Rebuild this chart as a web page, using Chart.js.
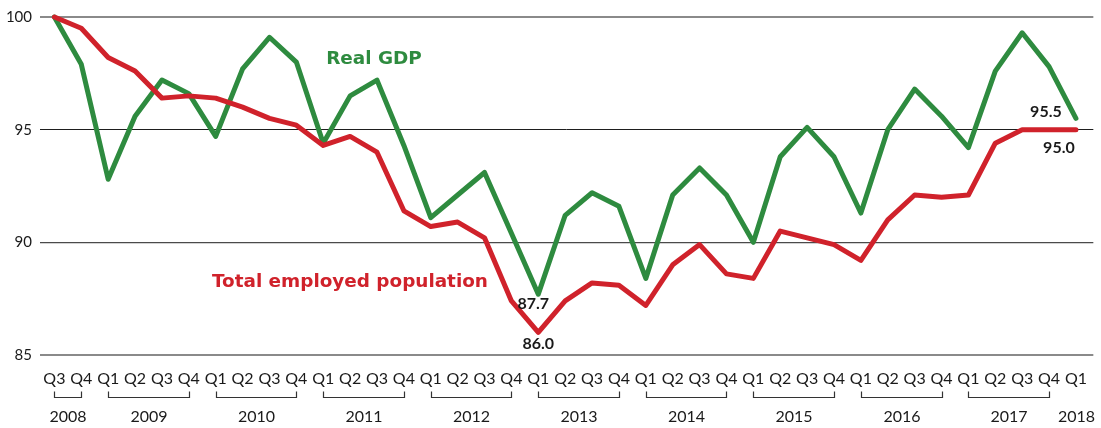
<!DOCTYPE html>
<html>
<head>
<meta charset="utf-8">
<script src="https://cdn.jsdelivr.net/npm/chart.js@4/dist/chart.umd.min.js"></script>
<style>
  html, body { margin: 0; padding: 0; background: #fff; }
  #wrap { position: relative; width: 1101px; height: 428px; }
</style>
</head>
<body>
<div id="wrap"><canvas id="gdpChart"></canvas></div>
<script>
/* ---------- Daten (Index, Q3 2008 = 100) ---------- */
const QUARTERS = ['Q3', 'Q4',
  'Q1', 'Q2', 'Q3', 'Q4', 'Q1', 'Q2', 'Q3', 'Q4', 'Q1', 'Q2', 'Q3', 'Q4',
  'Q1', 'Q2', 'Q3', 'Q4', 'Q1', 'Q2', 'Q3', 'Q4', 'Q1', 'Q2', 'Q3', 'Q4',
  'Q1', 'Q2', 'Q3', 'Q4', 'Q1', 'Q2', 'Q3', 'Q4', 'Q1', 'Q2', 'Q3', 'Q4',
  'Q1'];

// Jahr -> [erstes Quartal-Index, letztes Quartal-Index]
const YEARS = [
  ['2008', 0, 1], ['2009', 2, 5], ['2010', 6, 9], ['2011', 10, 13],
  ['2012', 14, 17], ['2013', 18, 21], ['2014', 22, 25], ['2015', 26, 29],
  ['2016', 30, 33], ['2017', 34, 37], ['2018', 38, 38],
];

const REAL_GDP = [100, 97.9, 92.8, 95.6, 97.2, 96.6, 94.7, 97.7, 99.1, 98.0,
  94.4, 96.5, 97.2, 94.3, 91.1, 92.1, 93.1, 90.4, 87.7, 91.2,
  92.2, 91.6, 88.4, 92.1, 93.3, 92.1, 90.0, 93.8, 95.1, 93.8,
  91.3, 95.0, 96.8, 95.6, 94.2, 97.6, 99.3, 97.8, 95.5];

const EMPLOYED = [100, 99.5, 98.2, 97.6, 96.4, 96.5, 96.4, 96.0, 95.5, 95.2,
  94.3, 94.7, 94.0, 91.4, 90.7, 90.9, 90.2, 87.4, 86.0, 87.4,
  88.2, 88.1, 87.2, 89.0, 89.9, 88.6, 88.4, 90.5, 90.2, 89.9,
  89.2, 91.0, 92.1, 92.0, 92.1, 94.4, 95.0, 95.0, 95.0];

const Y_TICKS = [85, 90, 95, 100];

const GREEN = '#2e8b3f';
const RED = '#d0222b';
const INK = '#1a1a1a';
const LABEL_FONT = 'Lato, "Noto Sans", sans-serif';
const TITLE_FONT = '"DejaVu Sans", Roboto, sans-serif';

/* ---------- Beschriftungen im Diagramm ---------- */
// Serien-Namen: Anker in Datenkoordinaten (linke Kante / Grundlinie)
const SERIES_LABELS = [
  { text: 'Real GDP', x: 10.11, y: 97.91, color: GREEN },
  { text: 'Total employed population', x: 5.86, y: 88.02, color: RED },
];
// Werte-Beschriftungen: Datenpunkt + Versatz in px
const VALUE_LABELS = [
  { text: '87.7', i: 18, series: REAL_GDP, dx: -5, dy: 15 },
  { text: '86.0', i: 18, series: EMPLOYED, dx: 0, dy: 17 },
  { text: '95.5', i: 38, series: REAL_GDP, dx: -30, dy: -1 },
  { text: '95.0', i: 38, series: EMPLOYED, dx: -17, dy: 23 },
];

function gridStyle(v) {
  if (v === 95) return { color: '#1e1e1e', width: 1 };
  if (v === 90) return { color: '#4a4a4a', width: 1.2 };
  return { color: '#8a8a8a', width: 2 };
}

// Jahresklammern + Jahreszahlen unter den Quartalen
const yearPlugin = {
  id: 'yearBrackets',
  afterDraw(chart) {
    const { ctx } = chart;
    const x = chart.scales.x;
    ctx.save();
    ctx.strokeStyle = '#333';
    ctx.lineWidth = 1.2;
    ctx.fillStyle = INK;
    ctx.font = '16px ' + LABEL_FONT;
    ctx.textAlign = 'center';
    ctx.textBaseline = 'alphabetic';
    YEARS.forEach(([label, a, b]) => {
      const x0 = Math.round(x.getPixelForValue(a)) + 0.5;
      const x1 = Math.round(x.getPixelForValue(b)) + 0.5;
      if (b > a) {
        ctx.beginPath();
        ctx.moveTo(x0, 391.5);
        ctx.lineTo(x0, 397.5);
        ctx.lineTo(x1, 397.5);
        ctx.lineTo(x1, 391.5);
        ctx.stroke();
      }
      ctx.fillText(label, (x0 + x1) / 2, 421.5);
    });
    ctx.restore();
  },
};

// Serien-Namen und Endwerte
const labelPlugin = {
  id: 'seriesLabels',
  afterDatasetsDraw(chart) {
    const { ctx } = chart;
    const x = chart.scales.x, y = chart.scales.y;
    ctx.save();
    ctx.textBaseline = 'alphabetic';
    ctx.textAlign = 'left';
    SERIES_LABELS.forEach(l => {
      ctx.font = 'bold 18.4px ' + TITLE_FONT;
      ctx.fillStyle = l.color;
      ctx.fillText(l.text, x.getPixelForValue(l.x), y.getPixelForValue(l.y));
    });
    ctx.font = 'bold 16px ' + LABEL_FONT;
    ctx.textAlign = 'center';
    ctx.fillStyle = INK;
    VALUE_LABELS.forEach(l => {
      const px = x.getPixelForValue(l.i) + l.dx;
      const py = y.getPixelForValue(l.series[l.i]) + l.dy;
      ctx.fillText(l.text, px, py);
    });
    ctx.restore();
  },
};

function lineDataset(label, data, color) {
  return {
    label,
    data: data.map((v, i) => ({ x: i, y: v })),
    borderColor: color,
    backgroundColor: color,
    borderWidth: 5,
    borderJoinStyle: 'round',
    borderCapStyle: 'round',
    pointRadius: 0,
    tension: 0,
    fill: false,
    clip: false,
  };
}

new Chart(document.getElementById('gdpChart'), {
  type: 'line',
  data: {
    datasets: [
      lineDataset('Total employed population', EMPLOYED, RED),
      lineDataset('Real GDP', REAL_GDP, GREEN),
    ],
  },
  options: {
    responsive: true,
    maintainAspectRatio: false,
    animation: false,
    layout: { padding: { top: 16, right: 1, left: 0, bottom: 0 } },
    plugins: { legend: { display: false }, tooltip: { enabled: false } },
    scales: {
      x: {
        type: 'linear',
        min: -0.536,
        max: 38.647,
        grid: { display: false, drawTicks: false },
        border: { display: false },
        afterBuildTicks: s => { s.ticks = QUARTERS.map((_, i) => ({ value: i })); },
        afterFit: s => { s.height = 73; },
        ticks: {
          autoSkip: false,
          maxRotation: 0,
          padding: 14,
          color: INK,
          font: { family: LABEL_FONT, size: 16 },
          callback: (v, i) => QUARTERS[i],
        },
      },
      y: {
        min: 85,
        max: 100,
        afterBuildTicks: s => { s.ticks = Y_TICKS.map(v => ({ value: v })); },
        afterFit: s => { s.width = 40; },
        grid: {
          drawTicks: false,
          color: c => gridStyle(c.tick.value).color,
          lineWidth: c => gridStyle(c.tick.value).width,
        },
        border: { display: false },
        ticks: {
          padding: 8,
          color: INK,
          font: { family: LABEL_FONT, size: 15 },
        },
      },
    },
  },
  plugins: [yearPlugin, labelPlugin],
});
</script>
</body>
</html>
